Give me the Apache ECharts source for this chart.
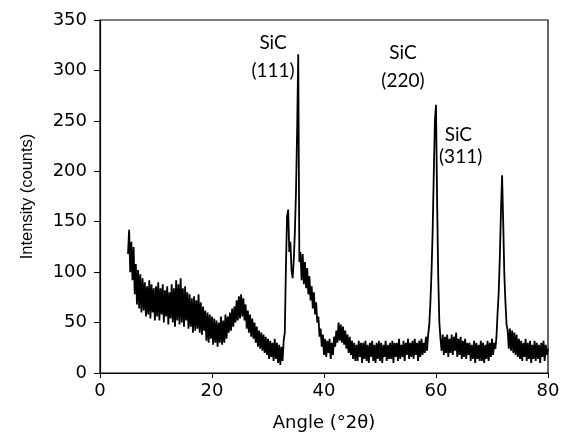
<!DOCTYPE html>
<html>
<head>
<meta charset="utf-8">
<script src="https://cdn.jsdelivr.net/npm/echarts@6/dist/echarts.min.js"></script>
<style>
  html, body { margin: 0; padding: 0; background: #fff; }
  #chart { width: 570px; height: 442px; }
</style>
</head>
<body>
<div id="chart"></div>
<script>
// scan from 5 to 80 °2θ, one reading every 0.2°
const angleStart = 5
const angleStep = 0.2
const counts = [
  118, 142, 100, 130, 92,   // 5
  125, 78, 108, 68, 102,    // 6
  64, 98, 60, 94, 62,       // 7
  90, 56, 86, 58, 92,       // 8
  54, 88, 60, 84, 52,       // 9
  86, 56, 90, 52, 84,       // 10
  58, 88, 50, 82, 56,       // 11
  86, 48, 80, 54, 88,       // 12
  50, 84, 46, 92, 52,       // 13
  88, 48, 94, 50, 84,       // 14
  46, 86, 52, 80, 44,       // 15
  78, 46, 74, 40, 76,       // 16
  42, 72, 44, 78, 40,       // 17
  70, 38, 66, 42, 62,       // 18
  32, 60, 30, 58, 34,       // 19
  56, 28, 54, 30, 52,       // 20
  26, 50, 30, 56, 28,       // 21
  52, 30, 58, 34, 56,       // 22
  40, 60, 42, 64, 46,       // 23
  66, 50, 72, 52, 76,       // 24
  54, 78, 56, 74, 52,       // 25
  68, 44, 62, 40, 58,       // 26
  36, 54, 34, 50, 30,       // 27
  46, 26, 42, 24, 40,       // 28
  22, 38, 20, 36, 18,       // 29
  34, 14, 32, 16, 30,       // 30
  12, 34, 14, 30, 10,       // 31
  28, 8, 26, 12, 32,        // 32
  40, 105, 155, 162, 120,   // 33
  130, 102, 94, 112, 140,   // 34
  180, 240, 316, 110, 120,  // 35
  92, 118, 88, 110, 84,     // 36
  104, 78, 96, 72, 86,      // 37
  64, 80, 58, 70, 50,       // 38
  56, 36, 44, 26, 38,       // 39
  18, 34, 16, 32, 20,       // 40
  34, 14, 30, 18, 36,       // 41
  26, 42, 30, 50, 32,       // 42
  48, 30, 46, 28, 42,       // 43
  24, 38, 20, 36, 18,       // 44
  32, 14, 30, 12, 28,       // 45
  12, 32, 16, 30, 10,       // 46
  30, 14, 32, 12, 28,       // 47
  10, 30, 16, 32, 12,       // 48
  28, 10, 30, 14, 32,       // 49
  12, 30, 10, 28, 16,       // 50
  32, 12, 28, 14, 30,       // 51
  14, 32, 10, 30, 16,       // 52
  30, 12, 34, 14, 28,       // 53
  16, 32, 12, 30, 18,       // 54
  34, 14, 30, 16, 32,       // 55
  14, 34, 18, 30, 12,       // 56
  32, 16, 34, 18, 30,       // 57
  20, 36, 22, 38, 48,       // 58
  70, 100, 140, 196, 250,   // 59
  266, 170, 95, 50, 34,     // 60
  22, 38, 18, 36, 20,       // 61
  38, 16, 34, 20, 38,       // 62
  18, 36, 22, 40, 16,       // 63
  34, 18, 36, 14, 32,       // 64
  16, 34, 14, 30, 18,       // 65
  30, 12, 28, 14, 32,       // 66
  10, 30, 14, 28, 12,       // 67
  32, 12, 30, 10, 28,       // 68
  14, 32, 12, 30, 16,       // 69
  34, 18, 30, 24, 36,       // 70
  60, 80, 115, 160, 196,    // 71
  150, 98, 70, 48, 42,      // 72
  24, 44, 22, 42, 20,       // 73
  40, 18, 38, 16, 34,       // 74
  14, 32, 12, 30, 16,       // 75
  34, 12, 30, 14, 32,       // 76
  10, 28, 14, 32, 12,       // 77
  30, 14, 28, 10, 30,       // 78
  16, 32, 12, 28, 18,       // 79
  24                        // 80
]

// peak labels: text, angle, intensity
const peakTexts = ['SiC', '(111)', 'SiC', '(220)', 'SiC', '(311)']
const peakAngles = [30.9, 30.9, 54.1, 54.1, 64.0, 64.4]
const peakHeights = [327, 300, 317, 290, 236, 214]

const xTicks = { min: 0, max: 80, interval: 20 }
const yTicks = { min: 0, max: 350, interval: 50 }

const points = counts.map((c, i) => [+(angleStart + i * angleStep).toFixed(1), c])

const chart = echarts.init(document.getElementById('chart'), null, { renderer: 'canvas' })

const tickFont = { fontFamily: 'DejaVu Sans, sans-serif', fontSize: 18, color: '#000' }

const option = {
  animation: false,
  backgroundColor: '#fff',
  grid: {
    left: 100, right: 22, top: 20, bottom: 69,
    show: true, borderColor: '#000', borderWidth: 1.2, backgroundColor: 'transparent'
  },
  xAxis: {
    type: 'value',
    min: xTicks.min, max: xTicks.max, interval: xTicks.interval,
    name: 'Angle (°2θ)',
    nameLocation: 'middle',
    nameGap: 41,
    nameTextStyle: { ...tickFont },
    axisLine: { show: true, onZero: false, lineStyle: { color: '#000', width: 1.2 } },
    axisTick: { show: true, inside: false, length: 5, lineStyle: { color: '#000' } },
    axisLabel: { ...tickFont, margin: 9 },
    splitLine: { show: false }
  },
  yAxis: {
    type: 'value',
    min: yTicks.min, max: yTicks.max, interval: yTicks.interval,
    name: 'Intensity (counts)',
    nameLocation: 'middle',
    nameRotate: 90,
    nameGap: 64,
    nameTextStyle: { fontFamily: 'Liberation Sans, Arial, sans-serif', fontSize: 16.5, color: '#000' },
    axisLine: { show: true, lineStyle: { color: '#000', width: 1.2 } },
    axisTick: { show: true, inside: false, length: 6, lineStyle: { color: '#000' } },
    axisLabel: { ...tickFont, margin: 13 },
    splitLine: { show: false }
  },
  series: [
    {
      type: 'line',
      data: points,
      showSymbol: false,
      symbol: 'none',
      lineStyle: { color: '#000', width: 1.8 },
      markPoint: {
        symbol: 'circle',
        symbolSize: 0,
        silent: true,
        label: {
          show: true,
          position: 'inside',
          color: '#000',
          fontFamily: 'Lato, Open Sans, sans-serif',
          fontSize: 19,
          formatter: p => p.name
        },
        data: peakTexts.map((t, i) => ({ name: t, coord: [peakAngles[i], peakHeights[i]] }))
      }
    }
  ]
}

chart.setOption(option)
</script>
</body>
</html>
